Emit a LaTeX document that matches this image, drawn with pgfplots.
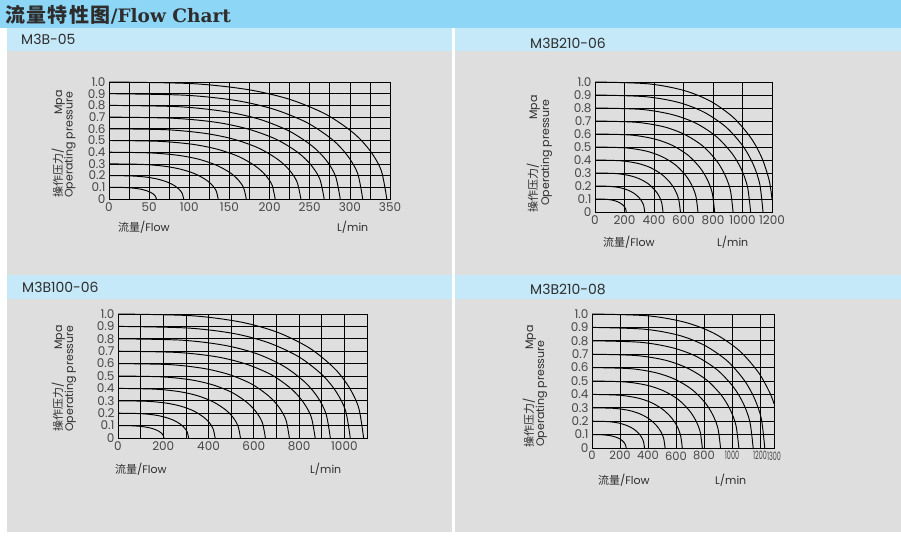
\documentclass[border=0pt]{standalone}
\usepackage{fontspec}
\usepackage{pgfplots}
\pgfplotsset{compat=1.18}
\setmainfont{Poppins}
\newfontfamily\cjk{Noto Sans CJK SC}
\newfontfamily\titleserif{DejaVu Serif}
\definecolor{bannerblue}{RGB}{142,214,246}
\definecolor{headblue}{RGB}{198,233,249}
\definecolor{panelgray}{RGB}{222,222,222}
\definecolor{txt}{RGB}{45,45,45}
\definecolor{ticktxt}{RGB}{70,70,70}
\newcommand{\cond}[1]{\scalebox{0.56}[1]{#1}}
\pgfplotsset{flowax/.style={
  scale only axis, anchor=south west,
  xmin=0, ymin=0, ymax=1,
  grid=both,
  major grid style={black, line width=0.7pt},
  minor grid style={black, line width=0.7pt},
  axis line style={black, line width=0.9pt},
  major tick length=0pt, minor tick length=0pt,
  tick label style={font=\fontsize{12}{12}\selectfont, text=ticktxt},
  ytick={0,0.1,0.2,0.3,0.4,0.5,0.6,0.7,0.8,0.9,1},
  yticklabels={0,0.1,0.2,0.3,0.4,0.5,0.6,0.7,0.8,0.9,1.0},
  cycle list={{black, solid, mark=none}},
  every axis plot post/.append style={black, solid, line width=0.95pt, smooth, mark=none},
}}
\begin{document}
\begin{tikzpicture}[x=1pt,y=1pt]
\useasboundingbox (0,0) rectangle (901,535);
\fill[white] (0,0) rectangle (901,535);
\fill[bannerblue] (0,507) rectangle (901,535);
\fill[headblue] (7,484) rectangle (452,507);
\fill[panelgray] (7,260) rectangle (452,484);
\fill[headblue] (7,236) rectangle (452,260);
\fill[panelgray] (7,3) rectangle (452,236);
\fill[headblue] (455,484) rectangle (901,507);
\fill[panelgray] (455,260) rectangle (901,484);
\fill[headblue] (455,236) rectangle (901,260);
\fill[panelgray] (455,3) rectangle (901,236);
\node[anchor=base west, inner sep=0, text=txt] at (5,512) {\fontsize{20}{20}\selectfont{\cjk\bfseries 流\hspace{1.4pt}量\hspace{1.4pt}特\hspace{1.4pt}性\hspace{1.4pt}图}{\titleserif\bfseries\fontsize{18.5}{18.5}\selectfont /Flow Chart}};
\begin{scope}[every node/.style={text=txt, inner sep=0}]
\node[anchor=base west] at (21,490) {\fontsize{14}{14}\selectfont M3B-05};
\node[anchor=base west] at (530,486) {\fontsize{14}{14}\selectfont M3B210-06};
\node[anchor=base west] at (22,242) {\fontsize{14}{14}\selectfont M3B100-06};
\node[anchor=base west] at (530,240) {\fontsize{14}{14}\selectfont M3B210-08};
% y labels
\node[rotate=90, anchor=base west] at (62,337) {\fontsize{11}{11}\selectfont{\cjk 操作压力}/};
\node[rotate=90, anchor=base west] at (62,420) {\fontsize{11}{11}\selectfont Mpa};
\node[rotate=90, anchor=base west] at (72.5,337) {\fontsize{11}{11}\selectfont Operating pressure};
\node[rotate=90, anchor=base west] at (537,322) {\fontsize{11}{11}\selectfont{\cjk 操作压力}/};
\node[rotate=90, anchor=base west] at (537,415) {\fontsize{11}{11}\selectfont Mpa};
\node[rotate=90, anchor=base west] at (549,329) {\fontsize{11}{11}\selectfont Operating pressure};
\node[rotate=90, anchor=base west] at (62,103) {\fontsize{11}{11}\selectfont{\cjk 操作压力}/};
\node[rotate=90, anchor=base west] at (62,185) {\fontsize{11}{11}\selectfont Mpa};
\node[rotate=90, anchor=base west] at (73,103) {\fontsize{11}{11}\selectfont Operating pressure};
\node[rotate=90, anchor=base west] at (533,87) {\fontsize{11}{11}\selectfont{\cjk 操作压力}/};
\node[rotate=90, anchor=base west] at (533,185) {\fontsize{11}{11}\selectfont Mpa};
\node[rotate=90, anchor=base west] at (544,88) {\fontsize{11}{11}\selectfont Operating pressure};
% x labels
\node[anchor=base west] at (118,303) {\fontsize{11}{11}\selectfont{\cjk 流量}/Flow};
\node[anchor=base west] at (337,303) {\fontsize{11}{11}\selectfont L/min};
\node[anchor=base west] at (603,288) {\fontsize{11}{11}\selectfont{\cjk 流量}/Flow};
\node[anchor=base west] at (717,288) {\fontsize{11}{11}\selectfont L/min};
\node[anchor=base west] at (115,61) {\fontsize{11}{11}\selectfont{\cjk 流量}/Flow};
\node[anchor=base west] at (310,61) {\fontsize{11}{11}\selectfont L/min};
\node[anchor=base west] at (598,51) {\fontsize{11}{11}\selectfont{\cjk 流量}/Flow};
\node[anchor=base west] at (715,51) {\fontsize{11}{11}\selectfont L/min};
\end{scope}
% ---------- Panel 1: M3B-05 ----------
\begin{axis}[flowax, at={(109pt,336pt)}, width=281pt, height=117pt, xmax=350,
  xtick={0,50,100,150,200,250,300,350}, xticklabels={0,50,100,150,200,250,300,350},
  minor xtick={25,75,125,175,225,275,325}]
\addplot coordinates {(0,0.1) (17.7,0.0986) (29.5,0.0935) (38.4,0.0852) (46,0.0725) (51.9,0.0564) (55.5,0.0412) (57.8,0.0243) (59,0)};
\addplot coordinates {(0,0.2) (27.9,0.197) (46.5,0.187) (60.5,0.170) (72.5,0.145) (81.8,0.113) (87.4,0.082) (91.1,0.049) (93,0)};
\addplot coordinates {(0,0.3) (40.8,0.296) (68,0.281) (88.4,0.256) (106.1,0.218) (119.7,0.169) (127.8,0.124) (133.3,0.073) (136,0)};
\addplot coordinates {(0,0.4) (51.3,0.394) (85.5,0.374) (111.2,0.341) (133.4,0.290) (150.5,0.226) (160.7,0.165) (167.6,0.097) (171,0)};
\addplot coordinates {(0,0.5) (62.1,0.493) (103.5,0.468) (134.6,0.426) (161.5,0.363) (182.2,0.282) (194.6,0.206) (202.9,0.122) (207,0)};
\addplot coordinates {(0,0.6) (71.7,0.592) (119.5,0.561) (155.4,0.511) (186.4,0.435) (210.3,0.338) (224.7,0.247) (234.2,0.146) (239,0)};
\addplot coordinates {(0,0.7) (80.4,0.690) (134,0.655) (174.2,0.596) (209,0.508) (235.8,0.395) (251.9,0.288) (262.6,0.170) (268,0)};
\addplot coordinates {(0,0.8) (86.4,0.789) (144,0.748) (187.2,0.682) (224.6,0.580) (253.4,0.451) (270.7,0.330) (282.2,0.194) (288,0)};
\addplot coordinates {(0,0.9) (94.8,0.887) (158,0.842) (205.4,0.767) (246.5,0.653) (278.1,0.508) (297,0.371) (309.7,0.219) (316,0)};
\addplot coordinates {(0,1) (103.8,0.986) (173,0.935) (224.9,0.852) (269.9,0.725) (304.5,0.564) (325.2,0.412) (339.1,0.243) (346,0)};
\end{axis}
% ---------- Panel 2: M3B210-06 ----------
\begin{axis}[flowax, at={(595pt,323pt)}, width=177pt, height=130pt, xmax=1200,
  xtick={0,200,400,600,800,1000,1200}, xticklabels={0,200,400,600,800,1000,1200}]
\addplot coordinates {(0,0.1) (63.6,0.0986) (106,0.0935) (137.8,0.0852) (165.4,0.0725) (186.6,0.0564) (199.3,0.0412) (207.8,0.0243) (212,0)};
\addplot coordinates {(0,0.2) (101.1,0.197) (168.5,0.187) (219.1,0.170) (262.9,0.145) (296.6,0.113) (316.8,0.082) (330.3,0.049) (337,0)};
\addplot coordinates {(0,0.3) (138.3,0.296) (230.5,0.281) (299.7,0.256) (359.6,0.218) (405.7,0.169) (433.3,0.124) (451.8,0.073) (461,0)};
\addplot coordinates {(0,0.4) (173.7,0.394) (289.5,0.374) (376.4,0.341) (451.6,0.290) (509.5,0.226) (544.3,0.165) (567.4,0.097) (579,0)};
\addplot coordinates {(0,0.5) (209.4,0.493) (349,0.468) (453.7,0.426) (544.4,0.363) (614.2,0.282) (656.1,0.206) (684,0.122) (698,0)};
\addplot coordinates {(0,0.6) (243.3,0.592) (405.5,0.561) (527.2,0.511) (632.6,0.435) (713.7,0.338) (762.3,0.247) (794.8,0.146) (811,0)};
\addplot coordinates {(0,0.7) (280.8,0.690) (468,0.655) (608.4,0.596) (730.1,0.508) (823.7,0.395) (879.8,0.288) (917.3,0.170) (936,0)};
\addplot coordinates {(0,0.8) (316.5,0.789) (527.5,0.748) (685.8,0.682) (822.9,0.580) (928.4,0.451) (991.7,0.330) (1033.9,0.194) (1055,0)};
\addplot coordinates {(0,0.9) (341.7,0.887) (569.5,0.842) (740.4,0.767) (888.4,0.653) (1002.3,0.508) (1070.7,0.371) (1116.2,0.219) (1139,0)};
\addplot coordinates {(0,1) (361.5,0.986) (602.5,0.935) (783.3,0.852) (939.9,0.725) (1060.4,0.564) (1132.7,0.412) (1180.9,0.243) (1200,0.1)};
\end{axis}
% ---------- Panel 3: M3B100-06 ----------
\begin{axis}[flowax, at={(118pt,97pt)}, width=249pt, height=124pt, xmax=1100,
  xtick={0,200,400,600,800,1000}, xticklabels={0,200,400,600,800,1000},
  minor xtick={100,300,500,700,900}]
\addplot coordinates {(0,0.1) (60.9,0.0986) (101.5,0.0935) (132,0.0852) (158.3,0.0725) (178.6,0.0564) (190.8,0.0412) (198.9,0.0243) (203,0)};
\addplot coordinates {(0,0.2) (93.6,0.197) (156,0.187) (202.8,0.170) (243.4,0.145) (274.6,0.113) (293.3,0.082) (305.8,0.049) (312,0)};
\addplot coordinates {(0,0.3) (128.7,0.296) (214.5,0.281) (278.9,0.256) (334.6,0.218) (377.5,0.169) (403.3,0.124) (420.4,0.073) (429,0)};
\addplot coordinates {(0,0.4) (162.3,0.394) (270.5,0.374) (351.7,0.341) (422,0.290) (476.1,0.226) (508.5,0.165) (530.2,0.097) (541,0)};
\addplot coordinates {(0,0.5) (195.3,0.493) (325.5,0.468) (423.2,0.426) (507.8,0.363) (572.9,0.282) (611.9,0.206) (638,0.122) (651,0)};
\addplot coordinates {(0,0.6) (227.1,0.592) (378.5,0.561) (492.1,0.511) (590.5,0.435) (666.2,0.338) (711.6,0.247) (741.9,0.146) (757,0)};
\addplot coordinates {(0,0.7) (261.3,0.690) (435.5,0.655) (566.2,0.596) (679.4,0.508) (766.5,0.395) (818.7,0.288) (853.6,0.170) (871,0)};
\addplot coordinates {(0,0.8) (281.4,0.789) (469,0.748) (609.7,0.682) (731.6,0.580) (825.4,0.451) (881.7,0.330) (919.2,0.194) (938,0)};
\addplot coordinates {(0,0.9) (307.8,0.887) (513,0.842) (666.9,0.767) (800.3,0.653) (902.9,0.508) (964.4,0.371) (1005.5,0.219) (1026,0)};
\addplot coordinates {(0,1) (325.5,0.986) (542.5,0.935) (705.3,0.852) (846.3,0.725) (954.8,0.564) (1019.9,0.412) (1063.3,0.243) (1085,0)};
\end{axis}
% ---------- Panel 4: M3B210-08 ----------
\begin{axis}[flowax, at={(592pt,87pt)}, width=182pt, height=134pt, xmax=1300,
  xtick={0,200,400,600,800,1000,1200,1300},
  xticklabels={0,200,400,600,800,\cond{1000},\cond{1200},\cond{1300}},
  xticklabel style={font=\fontsize{11.5}{11.5}\selectfont}]
\addplot coordinates {(0,0.1) (73.2,0.0986) (122,0.0935) (158.6,0.0852) (190.3,0.0725) (214.7,0.0564) (229.4,0.0412) (239.1,0.0243) (244,0)};
\addplot coordinates {(0,0.2) (112.5,0.197) (187.5,0.187) (243.8,0.170) (292.5,0.145) (330,0.113) (352.5,0.082) (367.5,0.049) (375,0)};
\addplot coordinates {(0,0.3) (156.6,0.296) (261,0.281) (339.3,0.256) (407.2,0.218) (459.4,0.169) (490.7,0.124) (511.6,0.073) (522,0)};
\addplot coordinates {(0,0.4) (193.5,0.394) (322.5,0.374) (419.3,0.341) (503.1,0.290) (567.6,0.226) (606.3,0.165) (632.1,0.097) (645,0)};
\addplot coordinates {(0,0.5) (236.4,0.493) (394,0.468) (512.2,0.426) (614.6,0.363) (693.4,0.282) (740.7,0.206) (772.2,0.122) (788,0)};
\addplot coordinates {(0,0.6) (275.4,0.592) (459,0.561) (596.7,0.511) (716,0.435) (807.8,0.338) (862.9,0.247) (899.6,0.146) (918,0)};
\addplot coordinates {(0,0.7) (314.7,0.690) (524.5,0.655) (681.9,0.596) (818.2,0.508) (923.1,0.395) (986.1,0.288) (1028,0.170) (1049,0)};
\addplot coordinates {(0,0.8) (345.3,0.789) (575.5,0.748) (748.2,0.682) (897.8,0.580) (1012.9,0.451) (1081.9,0.330) (1128,0.194) (1151,0)};
\addplot coordinates {(0,0.9) (370.2,0.887) (617,0.842) (802.1,0.767) (962.5,0.653) (1085.9,0.508) (1160,0.371) (1209.3,0.219) (1234,0)};
\addplot coordinates {(0,1) (405.3,0.986) (675.5,0.935) (878.2,0.852) (1053.8,0.725) (1188.9,0.564) (1270,0.412) (1300,0.33)};
\end{axis}
\end{tikzpicture}
\end{document}
